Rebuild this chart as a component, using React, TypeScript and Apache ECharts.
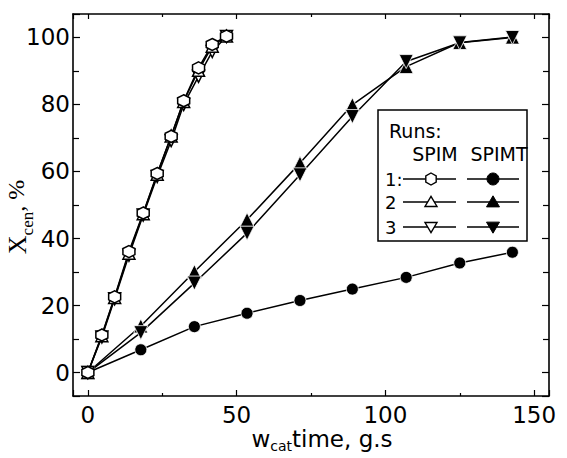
import React, { useEffect, useRef } from 'react';
import * as echarts from 'echarts';

// SPIM (fast curve): time axis and three runs
const spimTime = [0, 4.7, 9.0, 13.8, 18.6, 23.3, 28.0, 32.2, 37.2, 41.8, 46.6];
const spimRun1 = [0, 11.2, 22.6, 36.1, 47.6, 59.4, 70.5, 81.1, 90.9, 97.9, 100.4];
const spimRun2 = [0, 11.0, 22.4, 35.6, 47.4, 59.2, 70.6, 80.9, 90.2, 97.4, 100.4];
const spimRun3 = [0, 10.6, 22.0, 35.0, 47.0, 58.5, 69.2, 80.0, 88.4, 95.8, 100.3];

// SPIMT: time axis and three runs
const spimtTime = [0, 17.8, 35.8, 53.5, 71.3, 88.9, 107.0, 125.0, 142.7];
const spimtRun1 = [0, 6.8, 13.7, 17.7, 21.5, 24.9, 28.4, 32.7, 35.9];
const spimtRun2 = [0, 13.9, 30.1, 45.6, 62.5, 79.9, 91.3, 98.5, 100.1];
const spimtRun3 = [0, 11.9, 26.7, 41.6, 59.0, 76.4, 92.8, 98.4, 100.0];

const xTickValues = [0, 50, 100, 150];
const yTickValues = [0, 20, 40, 60, 80, 100];

const HEX = 'path://M0,-10L8.66,-5L8.66,5L0,10L-8.66,5L-8.66,-5Z';

export default function App() {
  const ref = useRef<HTMLDivElement>(null);
  useEffect(() => {
    const chart = echarts.init(ref.current!, null, { renderer: 'svg' });
    const pairs = (xs: number[], ys: number[]) => xs.map((x, i) => [x, ys[i]]);
    const sans = '"DejaVu Sans"';
    const black = '#000';
    const lineStyle = { color: black, width: 1.5 };
    const openStyle = { color: '#fff', borderColor: black, borderWidth: 1.5 };
    const filledStyle = { color: black, borderColor: '#fff', borderWidth: 0.8 };

    const xAxisBase = (pos: 'bottom' | 'top', major: number, minor: number, showLabel: boolean) => ({
      type: 'value',
      position: pos,
      min: -5,
      max: 155,
      splitNumber: 3,
      axisLine: { show: true, onZero: false, lineStyle: { color: black, width: 1.6 } },
      axisTick: { show: true, inside: true, length: major, lineStyle: { color: black, width: 1.2 } },
      minorTick: { show: true, splitNumber: 2, length: minor, lineStyle: { color: black, width: 1.2 } },
      splitLine: { show: false },
      axisLabel: {
        show: showLabel,
        margin: 7,
        color: black,
        fontFamily: sans,
        fontSize: 23,
        formatter: (v: number) => (xTickValues.includes(v) ? String(v) : ''),
      },
    });
    const yAxisBase = (pos: 'left' | 'right', showLabel: boolean) => ({
      type: 'value',
      position: pos,
      min: -7,
      max: 107,
      splitNumber: 5,
      axisLine: { show: true, onZero: false, lineStyle: { color: black, width: 1.6 } },
      axisTick: { show: true, inside: true, length: 7, lineStyle: { color: black, width: 1.2 } },
      minorTick: { show: true, splitNumber: 2, length: 6, lineStyle: { color: black, width: 1.2 } },
      splitLine: { show: false },
      axisLabel: {
        show: showLabel,
        margin: 3,
        color: black,
        fontFamily: sans,
        fontSize: 23,
        formatter: (v: number) => (yTickValues.includes(v) ? String(v) : ''),
      },
    });

    const mk = (name: string, xs: number[], ys: number[], symbol: string, size: number, rot: number, style: any, z: number) => ({
      type: 'line',
      name,
      data: pairs(xs, ys),
      symbol,
      symbolSize: size,
      symbolRotate: rot,
      itemStyle: style,
      lineStyle,
      z,
      emphasis: { disabled: true },
      silent: true,
    });

    // legend graphics
    const lx1 = 403, lx2 = 456, lmx = 431;
    const rx1 = 467, rx2 = 519, rmx = 493;
    const rows = [179, 202, 227];
    const g: any[] = [];
    g.push({ type: 'rect', z: 100, shape: { x: 378, y: 110, width: 149, height: 131 }, style: { fill: '#fff', stroke: black, lineWidth: 1.5 } });
    const txt = (t: string, x: number, y: number, align: string, size = 19) => ({
      type: 'text', z: 101, x, y,
      style: { text: t, fill: black, fontFamily: 'DejaVu Sans', fontSize: size, align, verticalAlign: 'middle' },
    });
    g.push(txt('Runs:', 389, 131, 'left'));
    g.push(txt('SPIM', 435, 154, 'center'));
    g.push(txt('SPIMT', 499, 154, 'center'));
    g.push(txt('1:', 385, rows[0], 'left', 18));
    g.push(txt('2', 385, rows[1], 'left', 18));
    g.push(txt('3', 385, rows[2], 'left', 18));
    rows.forEach((y) => {
      g.push({ type: 'line', z: 101, shape: { x1: lx1, y1: y, x2: lx2, y2: y }, style: { stroke: black, lineWidth: 1.5 } });
      g.push({ type: 'line', z: 101, shape: { x1: rx1, y1: y, x2: rx2, y2: y }, style: { stroke: black, lineWidth: 1.5 } });
    });
    const hexPts = (cx: number, cy: number, r: number) =>
      [0, 1, 2, 3, 4, 5].map((k) => [cx + r * Math.sin((k * Math.PI) / 3), cy - r * Math.cos((k * Math.PI) / 3)]);
    const triPts = (cx: number, cy: number, r: number, down: boolean) =>
      down
        ? [[cx - r, cy - r * 0.75], [cx + r, cy - r * 0.75], [cx, cy + r * 0.95]]
        : [[cx - r, cy + r * 0.75], [cx + r, cy + r * 0.75], [cx, cy - r * 0.95]];
    const open = { fill: '#fff', stroke: black, lineWidth: 1.4 };
    const fill = { fill: black, stroke: black, lineWidth: 1 };
    g.push({ type: 'polygon', z: 102, shape: { points: hexPts(lmx, rows[0], 6) }, style: open });
    g.push({ type: 'polygon', z: 102, shape: { points: triPts(lmx, rows[1], 6, false) }, style: open });
    g.push({ type: 'polygon', z: 102, shape: { points: triPts(lmx, rows[2], 6, true) }, style: open });
    g.push({ type: 'circle', z: 102, shape: { cx: rmx, cy: rows[0], r: 6 }, style: fill });
    g.push({ type: 'polygon', z: 102, shape: { points: triPts(rmx, rows[1], 6.5, false) }, style: fill });
    g.push({ type: 'polygon', z: 102, shape: { points: triPts(rmx, rows[2], 6.5, true) }, style: fill });

    // axis titles
    g.push({
      type: 'text', z: 50, x: 322, y: 440,
      style: {
        text: '{w|w}{s|cat}{t|time, g.s}',
        fill: black, align: 'center', verticalAlign: 'middle',
        rich: {
          w: { fontFamily: 'DejaVu Sans', fontSize: 23, lineHeight: 26, verticalAlign: 'top', fill: black },
          s: { fontFamily: 'DejaVu Sans', fontSize: 14, lineHeight: 14, verticalAlign: 'bottom', fill: black },
          t: { fontFamily: 'DejaVu Sans', fontSize: 23, lineHeight: 26, verticalAlign: 'top', fill: black },
        },
      },
    });
    g.push({
      type: 'text', z: 50, x: 20, y: 217, rotation: Math.PI / 2,
      style: {
        text: '{x|X}{s|cen}{p|, %}',
        fill: black, align: 'center', verticalAlign: 'middle',
        rich: {
          x: { fontFamily: 'Liberation Serif', fontSize: 26, lineHeight: 32, verticalAlign: 'top', fill: black },
          s: { fontFamily: 'Liberation Serif', fontSize: 17, lineHeight: 17, verticalAlign: 'bottom', fill: black },
          p: { fontFamily: 'Liberation Serif', fontSize: 24, lineHeight: 32, verticalAlign: 'top', fill: black },
        },
      },
    });

    const option: any = {
      animation: false,
      backgroundColor: '#fff',
      grid: { left: 73, top: 14, right: 18, bottom: 62, containLabel: false },
      xAxis: [xAxisBase('bottom', 6, 3, true), xAxisBase('top', 5, 3, false)],
      yAxis: [yAxisBase('left', true), yAxisBase('right', false)],
      series: [
        mk('SPIMT 1', spimtTime, spimtRun1, 'circle', 12, 0, filledStyle, 3),
        mk('SPIMT 2', spimtTime, spimtRun2, 'triangle', 14, 0, filledStyle, 3),
        mk('SPIMT 3', spimtTime, spimtRun3, 'triangle', 14, 180, filledStyle, 3),
        mk('SPIM 3', spimTime, spimRun3, 'triangle', 12, 180, openStyle, 4),
        mk('SPIM 2', spimTime, spimRun2, 'triangle', 12, 0, openStyle, 4),
        mk('SPIM 1', spimTime, spimRun1, HEX, 12, 0, openStyle, 4),
      ],
      graphic: g,
    };
    chart.setOption(option);
    return () => chart.dispose();
  }, []);
  return <div ref={ref} style={{ position: 'fixed', left: 0, top: 0, width: 567, height: 458, background: '#fff' }} />;
}
